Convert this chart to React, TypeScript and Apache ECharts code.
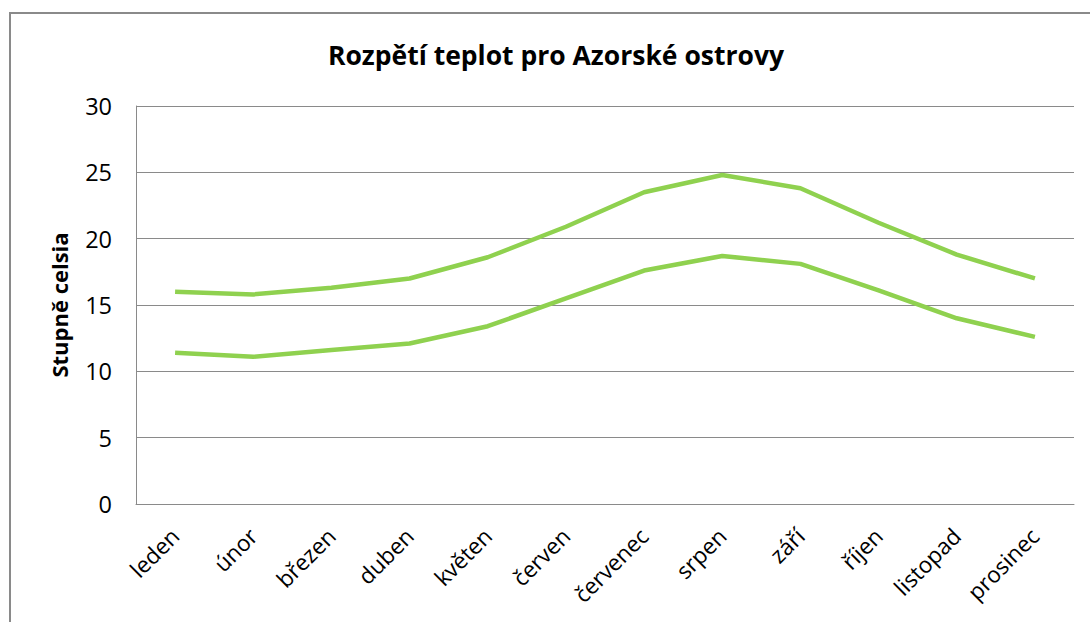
import React, { useEffect, useRef } from "react";
import * as echarts from "echarts";

const months = ["leden", "únor", "březen", "duben", "květen", "červen", "červenec", "srpen", "září", "říjen", "listopad", "prosinec"];
const maxTemps = [16.0, 15.8, 16.3, 17.0, 18.6, 20.9, 23.5, 24.8, 23.8, 21.2, 18.8, 17.0];
const minTemps = [11.4, 11.1, 11.6, 12.1, 13.4, 15.5, 17.6, 18.7, 18.1, 16.1, 14.0, 12.6];
const yTicks = { min: 0, max: 30, interval: 5 };

const FONT = "'Open Sans', sans-serif";

export default function App() {
  const ref = useRef<HTMLDivElement>(null);
  useEffect(() => {
    if (!ref.current) return;
    const chart = echarts.init(ref.current, null, { renderer: "svg" });
    chart.setOption({
      animation: false,
      backgroundColor: "#ffffff",
      title: {
        text: "Rozpětí teplot pro Azorské ostrovy",
        left: 551,
        top: 36,
        textAlign: "center",
        textStyle: { fontFamily: FONT, fontSize: 26.5, fontWeight: "bold", color: "#000" },
      },
      graphic: [
        {
          type: "rect",
          shape: { x: 10, y: 13, width: 1100, height: 700 },
          style: { fill: "none", stroke: "#8a8a8a", lineWidth: 2 },
          silent: true,
        },
      ],
      grid: { left: 136, top: 106, width: 938, height: 398, containLabel: false },
      xAxis: {
        type: "category",
        data: months,
        boundaryGap: true,
        axisLine: { lineStyle: { color: "#8a8a8a", width: 1 } },
        axisTick: { show: false },
        axisLabel: { rotate: 45, fontFamily: FONT, fontSize: 22.5, color: "#000", margin: 28, interval: 0 },
      },
      yAxis: {
        type: "value",
        min: yTicks.min,
        max: yTicks.max,
        interval: yTicks.interval,
        name: "Stupně celsia",
        nameLocation: "middle",
        nameGap: 66,
        nameTextStyle: { fontFamily: FONT, fontSize: 22, fontWeight: "bold", color: "#000" },
        axisLine: { show: true, lineStyle: { color: "#8a8a8a", width: 1 } },
        axisTick: { show: false },
        splitLine: { lineStyle: { color: "#8a8a8a", width: 1 } },
        axisLabel: { fontFamily: FONT, fontSize: 23.5, color: "#000", margin: 24 },
      },
      series: [
        {
          type: "line",
          data: maxTemps,
          symbol: "none",
          lineStyle: { color: "#8fd14f", width: 4.5 },
        },
        {
          type: "line",
          data: minTemps,
          symbol: "none",
          lineStyle: { color: "#8fd14f", width: 4.5 },
        },
      ],
    });
    return () => chart.dispose();
  }, []);
  return (
    <div style={{ position: "absolute", left: 0, top: 0, width: 1090, height: 622 }}>
      <div ref={ref} style={{ width: 1090, height: 622 }} />
    </div>
  );
}
